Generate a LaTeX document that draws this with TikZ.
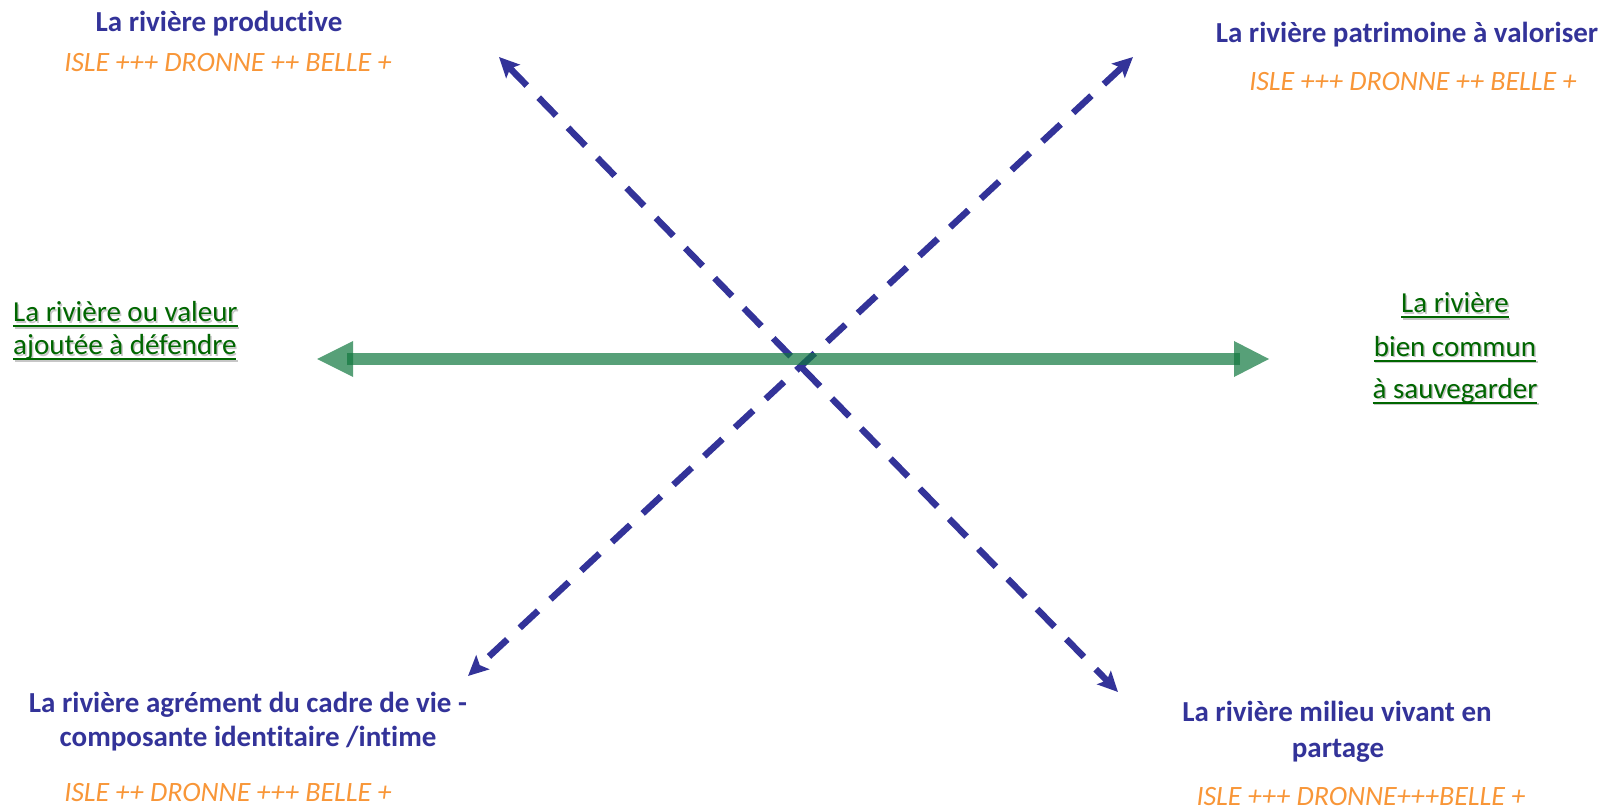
\documentclass[tikz,border=0pt]{standalone}
\usepackage{fontspec}
\setmainfont{Carlito}[Ligatures=NoCommon]
\usetikzlibrary{arrows.meta}
\definecolor{ttblue}{RGB}{51,51,153}
\definecolor{ttorange}{RGB}{248,150,56}
\definecolor{ttgreen}{RGB}{0,102,0}
\definecolor{lngreen}{RGB}{16,119,62}
\newsavebox\ulboxA
\newcommand\ulg[1]{\sbox\ulboxA{#1}\rlap{\rule[-5.5pt]{\wd\ulboxA}{2pt}}\usebox\ulboxA}
\newcommand\shtxt[1]{\rlap{\raisebox{-1.5pt}{\hspace{1.5pt}\color{black!22}\ulg{#1}}}{\color{ttgreen}\ulg{#1}}}
\begin{document}
\begin{tikzpicture}[x=1pt,y=-1pt,
  title/.style={text=ttblue, font=\fontsize{29}{35}\selectfont\bfseries, anchor=base, inner sep=0pt},
  score/.style={text=ttorange, font=\fontsize{28}{34}\selectfont\itshape, anchor=base, inner sep=0pt},
  gtxt/.style={font=\fontsize{29}{35}\selectfont, anchor=base, inner sep=0pt},
  dasharrow/.style={ttblue, line width=6.5pt, dash pattern=on 25pt off 17pt,
     {Stealth[length=20pt,width=19pt,inset=4pt]}-{Stealth[length=20pt,width=19pt,inset=4pt]}},
  greenline/.style={lngreen, opacity=0.7, line width=12pt, line cap=butt},
  greenhead/.style={fill=lngreen, opacity=0.7}]
\useasboundingbox (0,0) rectangle (1612,810);
% text blocks
\node[title] (t1) at (219,32) {La rivière productive};
\node[score] (s1) at (228,72) {ISLE +++ DRONNE ++ BELLE +};
\node[title] (t2) at (1407,43) {La rivière patrimoine à valoriser};
\node[score] (s2) at (1413,91) {ISLE +++ DRONNE ++ BELLE +};
\node[gtxt, anchor=base west] (gl1) at (13,322) {\shtxt{La rivière ou valeur}};
\node[gtxt, anchor=base west] (gl2) at (13,355) {\shtxt{ajoutée à défendre}};
\node[gtxt] (gr1) at (1455,313) {\shtxt{La rivière}};
\node[gtxt] (gr2) at (1455,356) {\shtxt{bien commun}};
\node[gtxt] (gr3) at (1455,398) {\shtxt{à sauvegarder}};
\node[title] (t3a) at (248,712) {La rivière agrément du cadre de vie -};
\node[title] (t3b) at (248,746) {composante identitaire /intime};
\node[score] (s3) at (228,801) {ISLE ++ DRONNE +++ BELLE +};
\node[title] (t4a) at (1337,721) {La rivière milieu vivant en};
\node[title] (t4b) at (1338,757) {partage};
\node[score] (s4) at (1361,805) {ISLE +++ DRONNE+++BELLE +};
% arrow end points
\coordinate (bUL) at (499,57);
\coordinate (bLR) at (1118,692);
\coordinate (bUR) at (1133,57);
\coordinate (bLL) at (468,676);
\coordinate (gA) at (347,359);
\coordinate (gB) at (1240,359);
\coordinate (gLt) at (317,359);
\coordinate (gRt) at (1269,359);
% blue dashed arrows
\draw[dasharrow] (bUL) -- (bLR);
\draw[dasharrow] (bUR) -- (bLL);
% green axis
\draw[greenline] (gA) -- (gB);
\fill[greenhead] (gLt) -- ([shift={(36,-18)}]gLt) -- ([shift={(36,18)}]gLt) -- cycle;
\fill[greenhead] (gRt) -- ([shift={(-35,-18)}]gRt) -- ([shift={(-35,18)}]gRt) -- cycle;
\end{tikzpicture}
\end{document}
